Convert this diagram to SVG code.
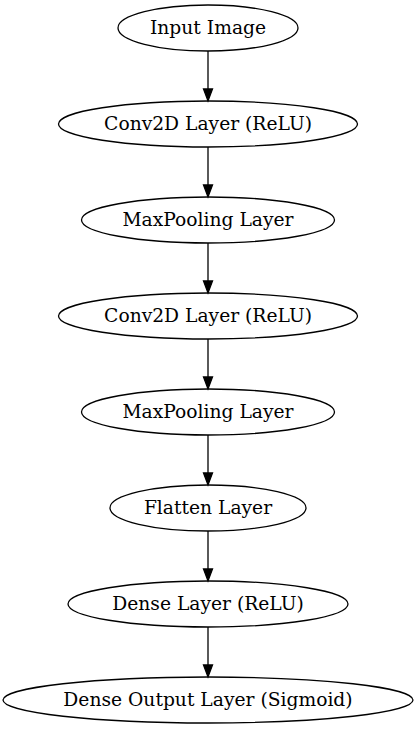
<svg xmlns="http://www.w3.org/2000/svg" width="416" height="731" viewBox="0 0 416 731">
<style>
.n ellipse{fill:none;stroke:#000;stroke-width:1.3}
.n text{font-family:"DejaVu Serif",serif;font-size:18.7px;text-anchor:middle;fill:#000}
.e line{stroke:#000;stroke-width:1.3}
.e polygon{fill:#000;stroke:#000;stroke-width:1.3}
</style>
<rect width="416" height="731" fill="#fff"/>
<g class="e" id="edges">
<line x1="208" y1="51" x2="208" y2="89"/><polygon points="203.5,89 212.5,89 208,101"/>
<line x1="208" y1="147" x2="208" y2="185"/><polygon points="203.5,185 212.5,185 208,197"/>
<line x1="208" y1="243" x2="208" y2="281"/><polygon points="203.5,281 212.5,281 208,293"/>
<line x1="208" y1="339" x2="208" y2="377"/><polygon points="203.5,377 212.5,377 208,389"/>
<line x1="208" y1="435" x2="208" y2="473"/><polygon points="203.5,473 212.5,473 208,485"/>
<line x1="208" y1="531" x2="208" y2="569"/><polygon points="203.5,569 212.5,569 208,581"/>
<line x1="208" y1="627" x2="208" y2="665"/><polygon points="203.5,665 212.5,665 208,677"/>
</g>
<g class="n" id="input"><ellipse cx="208" cy="28" rx="90" ry="23"/><text x="208" y="34">Input Image</text></g>
<g class="n" id="conv1"><ellipse cx="208" cy="124" rx="149.5" ry="23"/><text x="208" y="130">Conv2D Layer (ReLU)</text></g>
<g class="n" id="pool1"><ellipse cx="208" cy="220" rx="126.5" ry="23"/><text x="208" y="226">MaxPooling Layer</text></g>
<g class="n" id="conv2"><ellipse cx="208" cy="316" rx="149.5" ry="23"/><text x="208" y="322">Conv2D Layer (ReLU)</text></g>
<g class="n" id="pool2"><ellipse cx="208" cy="412" rx="126.5" ry="23"/><text x="208" y="418">MaxPooling Layer</text></g>
<g class="n" id="flatten"><ellipse cx="208" cy="508" rx="98" ry="23"/><text x="208" y="514">Flatten Layer</text></g>
<g class="n" id="dense"><ellipse cx="208" cy="604" rx="140" ry="23"/><text x="208" y="610">Dense Layer (ReLU)</text></g>
<g class="n" id="output"><ellipse cx="208" cy="700" rx="205" ry="23"/><text x="208" y="706">Dense Output Layer (Sigmoid)</text></g>
</svg>
